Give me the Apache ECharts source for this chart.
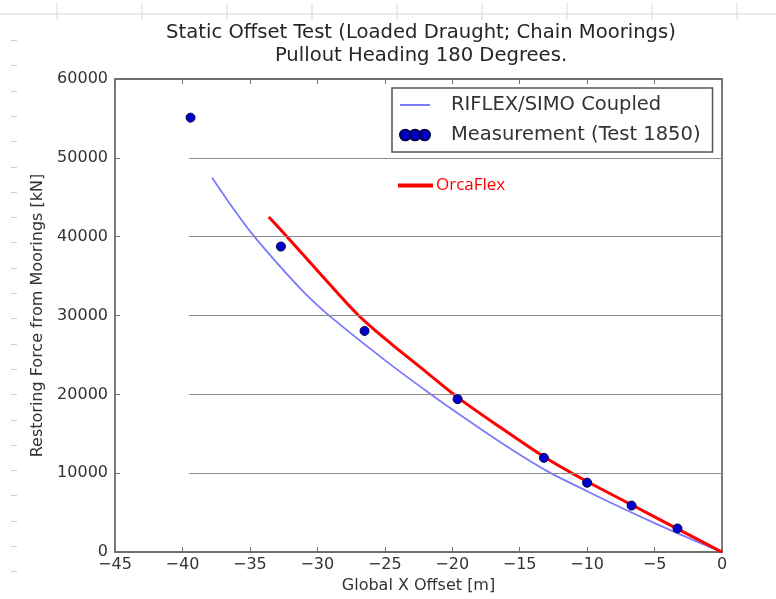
<!DOCTYPE html>
<html>
<head>
<meta charset="utf-8">
<script src="https://cdn.jsdelivr.net/npm/echarts@6/dist/echarts.min.js"></script>
<style>
html,body{margin:0;padding:0;background:#fff;}
#chart{width:776px;height:599px;}
</style>
</head>
<body>
<div id="chart"></div>
<script>
// ---- data ----
var titleLines = ['Static Offset Test (Loaded Draught; Chain Moorings)', 'Pullout Heading 180 Degrees.'];
var xTicks = [-45, -40, -35, -30, -25, -20, -15, -10, -5, 0];
var yTicks = [0, 10000, 20000, 30000, 40000, 50000, 60000];
var gridLevels = [10000, 20000, 30000, 40000, 50000];
var gridStartX = -39.5;

var riflexX = [-37.8, -36.3, -34.8, -32.8, -31.0, -29.3, -25.0, -21.9, -19.0, -16.0, -13.0, -10.0, -7.5, -5.0, -2.5, 0];
var riflexY = [47490, 43740, 40290, 36290, 32960, 30240, 24350, 20410, 16900, 13450, 10300, 7720, 5650, 3680, 1800, 0];

var measX = [-39.4, -32.7, -26.5, -19.6, -13.2, -10.0, -6.7, -3.3];
var measY = [55100, 38750, 28050, 19400, 11950, 8800, 5900, 3000];

var orcaX = [-33.6, -32.7, -30.5, -28.5, -27.0, -25.6, -24.3, -22.4, -19.5, -16.5, -13.2, -10.0, -6.7, -3.3, 0];
var orcaY = [42500, 40850, 36650, 32850, 30100, 27950, 26100, 23500, 19500, 15900, 12100, 8950, 6000, 2950, 0];

var names = ['RIFLEX/SIMO Coupled', 'Measurement (Test 1850)', 'OrcaFlex'];

function zip(a, b) { return a.map(function (v, i) { return [v, b[i]]; }); }
function minus(v) { return String(v).replace('-', '\u2212'); }

var chart = echarts.init(document.getElementById('chart'), null, {renderer: 'canvas'});

var FONT = 'DejaVu Sans';
var frameColor = '#6e6e6e';
var deco = [];
// spreadsheet background decoration
deco.push({type: 'line', shape: {x1: 0, y1: 14, x2: 776, y2: 14}, style: {stroke: '#d8d8d8', lineWidth: 1}, silent: true});
[57, 142, 227, 312, 397, 482, 567, 652, 737].forEach(function (x) {
  deco.push({type: 'line', shape: {x1: x, y1: 3, x2: x, y2: 20}, style: {stroke: '#d8d8d8', lineWidth: 1}, silent: true});
});
for (var k = 0; k < 22; k++) {
  var yy = Math.round(40 + 25.3 * k) + 0.5;
  deco.push({type: 'line', shape: {x1: 11, y1: yy, x2: 17, y2: yy}, style: {stroke: '#cfcfcf', lineWidth: 1}, silent: true});
}

var axisCommon = {
  axisLine: {show: true, onZero: false, lineStyle: {color: frameColor, width: 1.8}},
  axisTick: {show: true, inside: true, length: 5, lineStyle: {color: frameColor, width: 1}},
  splitLine: {show: false}
};

var option = {
  backgroundColor: '#ffffff',
  animation: false,
  title: {
    text: titleLines.join('\n'),
    left: 416, top: 16, textAlign: 'center',
    textStyle: {fontFamily: FONT, fontSize: 19.6, fontWeight: 'normal', color: '#262626', lineHeight: 23}
  },
  graphic: deco,
  grid: {left: 115, top: 79, width: 607, height: 476, containLabel: false},
  legend: [{
    data: [
      {name: names[0], icon: 'path://M0,0L30,0L30,2L0,2Z'},
      {name: names[1], icon: 'path://M5,0A5,5 0 1,0 5,10A5,5 0 1,0 5,0Z M14,0A5,5 0 1,0 14,10A5,5 0 1,0 14,0Z M23,0A5,5 0 1,0 23,10A5,5 0 1,0 23,0Z'}
    ],
    orient: 'vertical',
    left: 392, top: 88,
    padding: [7, 12, 7, 7],
    itemGap: 10,
    itemWidth: 30, itemHeight: 12,
    borderColor: '#555', borderWidth: 1.5, borderRadius: 0,
    backgroundColor: '#fff',
    textStyle: {fontFamily: FONT, fontSize: 19.5, color: '#333', padding: [0, 0, 0, 16]}
  }, {
    data: [{name: names[2], icon: 'rect'}],
    left: 398, top: 177, padding: 0,
    itemWidth: 35, itemHeight: 4,
    textStyle: {fontFamily: 'Open Sans', fontSize: 17, color: '#ff0000', padding: [0, 0, 0, -2]}
  }],
  xAxis: [Object.assign({
    type: 'value', position: 'bottom', min: xTicks[0], max: xTicks[xTicks.length - 1], interval: 5,
    name: 'Global X Offset [m]', nameLocation: 'middle', nameGap: 22,
    nameTextStyle: {fontFamily: FONT, fontSize: 16, color: '#333'},
    axisLabel: {fontFamily: FONT, fontSize: 16, color: '#333', margin: 5, formatter: minus}
  }, axisCommon), Object.assign({
    type: 'value', position: 'top', min: xTicks[0], max: xTicks[xTicks.length - 1], interval: 5,
    axisLabel: {show: false}
  }, axisCommon)],
  yAxis: [Object.assign({
    type: 'value', position: 'left', min: yTicks[0], max: yTicks[yTicks.length - 1], interval: 10000,
    name: 'Restoring Force from Moorings [kN]', nameLocation: 'middle', nameGap: 65, nameRotate: 90,
    nameTextStyle: {fontFamily: FONT, fontSize: 16, color: '#333'},
    axisLabel: {fontFamily: FONT, fontSize: 16, color: '#333', margin: 7, formatter: function (v) { return String(v); }}
  }, axisCommon), Object.assign({
    type: 'value', position: 'right', min: yTicks[0], max: yTicks[yTicks.length - 1], interval: 10000,
    axisLabel: {show: false}
  }, axisCommon)],
  series: [{
    name: 'grid', type: 'line', data: [], z: 1, silent: true,
    markLine: {
      silent: true, symbol: 'none', animation: false,
      label: {show: false},
      lineStyle: {color: '#8c8c8c', width: 1.2, type: 'solid'},
      data: gridLevels.map(function (v) { return [{coord: [gridStartX, v]}, {coord: [0, v]}]; })
    }
  }, {
    name: names[0], type: 'line', data: zip(riflexX, riflexY), z: 3,
    smooth: 0.3, symbol: 'none', showSymbol: false,
    itemStyle: {color: '#7a7aff'},
    lineStyle: {color: '#7a7aff', width: 1.8}
  }, {
    name: names[1], type: 'scatter', data: zip(measX, measY), z: 5,
    symbol: 'circle', symbolSize: 9,
    itemStyle: {color: '#0000cc', borderColor: '#000050', borderWidth: 1, opacity: 1}
  }, {
    name: names[2], type: 'line', data: zip(orcaX, orcaY), z: 4,
    smooth: 0.3, symbol: 'none', showSymbol: false,
    itemStyle: {color: '#ff0000'},
    lineStyle: {color: '#ff0000', width: 3}
  }]
};
chart.setOption(option);
</script>
</body>
</html>
